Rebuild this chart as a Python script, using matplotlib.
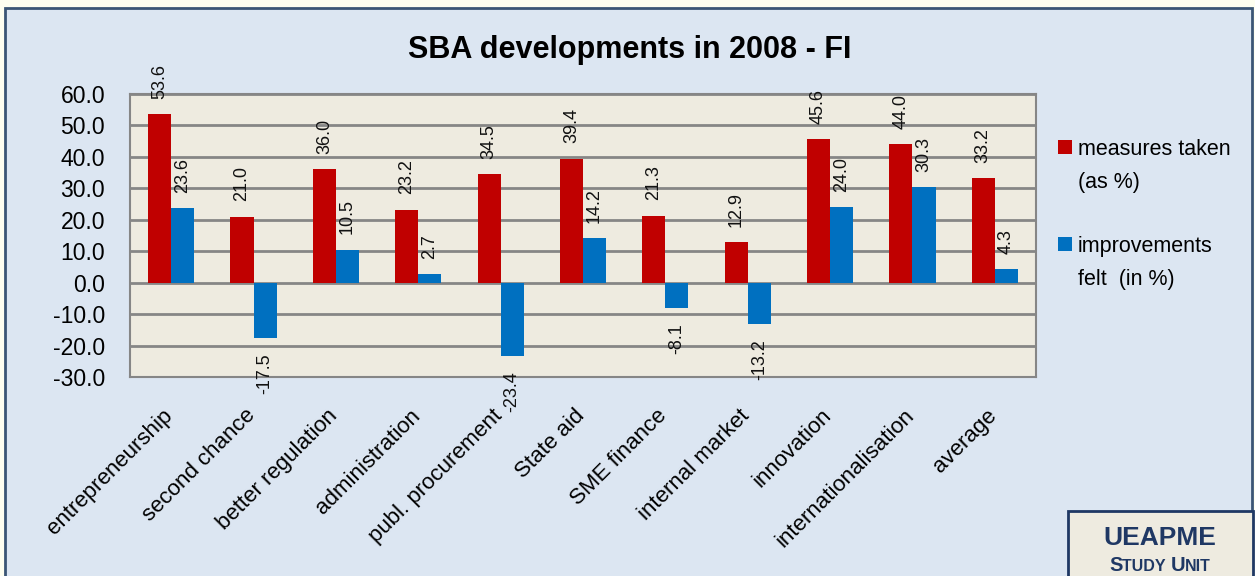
"""
SBA developments in 2008 - FI
"""
import numpy as np
import matplotlib
matplotlib.use('Agg')
import matplotlib.pyplot as plt
from matplotlib.patches import Rectangle
from matplotlib.transforms import ScaledTranslation

# data
categories = ['entrepreneurship', 'second chance', 'better regulation', 'administration',
              'publ. procurement', 'State aid', 'SME finance', 'internal market',
              'innovation', 'internationalisation', 'average']
measures_taken = [53.6, 21.0, 36.0, 23.2, 34.5, 39.4, 21.3, 12.9, 45.6, 44.0, 33.2]
improvements_felt = [23.6, -17.5, 10.5, 2.7, -23.4, 14.2, -8.1, -13.2, 24.0, 30.3, 4.3]
series_lines = [['measures taken', '(as %)'], ['improvements', 'felt  (in %)']]
y_ticks = [-30, -20, -10, 0, 10, 20, 30, 40, 50, 60]

RED = '#C00000'
BLUE = '#0070C0'
NAVY = '#1F3864'
plt.rcParams['font.family'] = ['Liberation Sans', 'DejaVu Sans']

W, H = 1255, 576
fig = plt.figure(figsize=(W / 100, H / 100), dpi=100)
fig.patch.set_facecolor('#FEFEF0')

# outer chart box
fig.patches.append(Rectangle((5 / W, -0.02), (1252 - 5) / W, (576 - 8) / H + 0.02,
                             transform=fig.transFigure, facecolor='#DCE6F2',
                             edgecolor='#3B5575', linewidth=2, zorder=-1))

ax = fig.add_axes([130 / W, 1 - 377 / H, (1036 - 130) / W, (377 - 94) / H], zorder=1)
ax.set_facecolor('#EEEBE0')

x = np.arange(len(categories))
w = 0.28
b1 = ax.bar(x - w / 2, measures_taken, w, color=RED, zorder=3)
b2 = ax.bar(x + w / 2, improvements_felt, w, color=BLUE, zorder=3)

for bars, vals in ((b1, measures_taken), (b2, improvements_felt)):
    for rect, v in zip(bars, vals):
        cx = rect.get_x() + rect.get_width() / 2
        off = 11 if v >= 0 else -11
        ax.annotate(f'{v:.1f}', (cx, v), xytext=(0, off), textcoords='offset points',
                    rotation=90, ha='center', va='bottom' if v >= 0 else 'top',
                    fontsize=13, color='#111111', zorder=4, annotation_clip=False)

ax.set_xlim(-0.5, len(categories) - 0.5)
ax.set_ylim(-30, 60)
ax.set_yticks(y_ticks)
ax.set_yticklabels([f'{t:.1f}' for t in y_ticks], fontsize=16.5)
ax.set_xticks(x)
ax.set_xticklabels([])
# slanted category labels, drawn as texts so they can sit a bit right of the tick
shift = ScaledTranslation(6 / 100, -28 / 100, fig.dpi_scale_trans)
for xi, cat in zip(x, categories):
    ax.text(xi, 0, cat, transform=ax.get_xaxis_transform() + shift, rotation=45,
            ha='right', va='top', fontsize=16, clip_on=False)
ax.tick_params(axis='both', length=0)
ax.tick_params(axis='y', pad=18)
ax.grid(axis='y', color='#868686', linewidth=2, zorder=1)
for s in ax.spines.values():
    s.set_color('#868686')
    s.set_linewidth(1.5)

fig.text(630 / W, 1 - 50 / H, 'SBA developments in 2008 - FI', fontsize=22,
         fontweight='bold', ha='center', va='center')

# legend, drawn by hand so the square sits on the first line
for (line1, line2), col, top in zip(series_lines, (RED, BLUE), (140, 237)):
    fig.patches.append(Rectangle((1058 / W, 1 - (top + 14) / H), 14 / W, 14 / H,
                                 transform=fig.transFigure, facecolor=col, zorder=2))
    fig.text(1078 / W, 1 - (top + 15) / H, line1, fontsize=15.5, va='baseline')
    fig.text(1078 / W, 1 - (top + 48) / H, line2, fontsize=15.5, va='baseline')

# logo box
fig.patches.append(Rectangle((1068 / W, -0.02), (1253 - 1068) / W, (576 - 511) / H + 0.02,
                             transform=fig.transFigure, facecolor='#EEEBE0',
                             edgecolor=NAVY, linewidth=2, zorder=2))
fig.text(1160 / W, 1 - 538 / H, 'UEAPME', ha='center', va='center', fontsize=19,
         fontweight='bold', color=NAVY)

# small caps "STUDY UNIT"
parts = [('S', 14.5), ('TUDY ', 11.5), ('U', 14.5), ('NIT', 11.5)]
r = fig.canvas.get_renderer()
widths = []
for s, fs in parts:
    t = fig.text(0, 0, s.replace(' ', '\u00a0'), fontsize=fs, fontweight='bold')
    widths.append(t.get_window_extent(r).width)
    t.remove()
xpos = 1160 - sum(widths) / 2
for (s, fs), wd in zip(parts, widths):
    fig.text(xpos / W, 1 - 571 / H, s.replace(' ', '\u00a0'), fontsize=fs,
             fontweight='bold', color=NAVY, ha='left', va='baseline')
    xpos += wd

fig.savefig('out.png', dpi=100, facecolor=fig.get_facecolor())
